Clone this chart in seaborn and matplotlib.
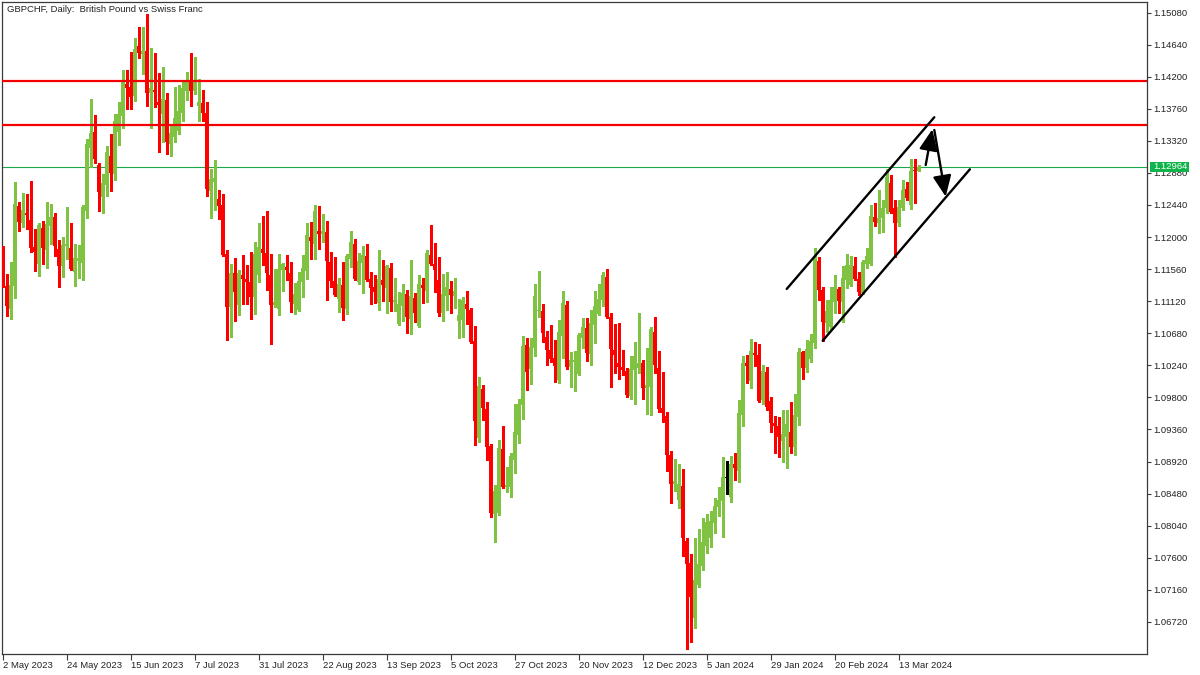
import numpy as np
import pandas as pd
import matplotlib
matplotlib.use("Agg")
import matplotlib.pyplot as plt
import matplotlib.transforms as mtransforms
from matplotlib.patches import Rectangle
import seaborn as sns

# ---------------- data (GBPCHF daily) ----------------
opens = [
    1.11778, 1.11330, 1.11019, 1.11334, 1.12427, 1.12199, 1.12336, 1.12235, 1.11865, 1.11636,
    1.12125, 1.11824, 1.12157, 1.12276, 1.11837, 1.11609, 1.11879, 1.11851, 1.11526, 1.11677,
    1.11650, 1.12363, 1.13223, 1.13442, 1.12990, 1.12555, 1.12720, 1.13113, 1.12871, 1.13447,
    1.13667, 1.14101, 1.14060, 1.13941, 1.14622, 1.14517, 1.14554, 1.13982, 1.14019, 1.13854,
    1.13694, 1.13881, 1.13282, 1.13378, 1.13456, 1.13708, 1.14005, 1.14142, 1.14005, 1.13799,
    1.13840, 1.13703, 1.12638, 1.12757, 1.12523, 1.12441, 1.11769, 1.11046, 1.11508, 1.11074,
    1.11481, 1.11426, 1.11385, 1.11183, 1.11485, 1.11837, 1.11787, 1.11481, 1.11074, 1.11019,
    1.11554, 1.11590, 1.11508, 1.11087, 1.11005, 1.11389, 1.11540, 1.12002, 1.11911, 1.12084,
    1.12048, 1.12071, 1.11659, 1.11398, 1.11156, 1.11343, 1.11019, 1.11705, 1.11906, 1.11389,
    1.11650, 1.11741, 1.11426, 1.11316, 1.11101, 1.11412, 1.11307, 1.11577, 1.11115, 1.10813,
    1.11060, 1.11220, 1.10882, 1.11165, 1.10786, 1.11343, 1.11266, 1.11755, 1.11632, 1.11412,
    1.10964, 1.11197, 1.11289, 1.11197, 1.10854, 1.10863, 1.11083, 1.11000, 1.10575, 1.09249,
    1.09917, 1.09642, 1.09135, 1.08206, 1.08220, 1.09094, 1.08577, 1.08577, 1.08947, 1.09290,
    1.09702, 1.10520, 1.10196, 1.10484, 1.10987, 1.10987, 1.10630, 1.10456, 1.10342, 1.10036,
    1.10648, 1.11069, 1.10223, 1.10292, 1.10127, 1.10621, 1.10754, 1.10401, 1.10799, 1.10950,
    1.11138, 1.11453, 1.10904, 1.10452, 1.10273, 1.10219, 1.10164, 1.09821, 1.10177, 1.10205,
    1.10273, 1.09930, 1.09944, 1.10699, 1.10205, 1.09656, 1.09546, 1.09011, 1.08618, 1.08398,
    1.08586, 1.07831, 1.07529, 1.06780, 1.07232, 1.07493, 1.07767, 1.07877, 1.08083, 1.08302,
    1.08385, 1.08691, 1.08440, 1.08888, 1.08796, 1.09565, 1.10273, 1.10031, 1.10411, 1.10388,
    1.09770, 1.10150, 1.09752, 1.09446, 1.09414, 1.09208, 1.09263, 1.09331, 1.09126, 1.09537,
    1.10429, 1.10209, 1.10328, 1.10552, 1.11677, 1.11275, 1.10827, 1.10772, 1.11115, 1.11289,
    1.11115, 1.11412, 1.11343, 1.11604, 1.11426, 1.11229, 1.11627, 1.11627, 1.12281, 1.12199,
    1.12258, 1.12395, 1.12738, 1.12395, 1.12189, 1.12404, 1.12656, 1.12441, 1.12921, 1.12912,
]
highs = [
    1.11879, 1.11494, 1.11659, 1.12757, 1.12487, 1.12606, 1.12592, 1.12766, 1.12112, 1.12199,
    1.12221, 1.12482, 1.12459, 1.12331, 1.11961, 1.12002, 1.12414, 1.12194, 1.11906, 1.11892,
    1.12441, 1.13346, 1.13895, 1.13676, 1.13013, 1.12866, 1.13250, 1.13415, 1.13689, 1.13854,
    1.14293, 1.14293, 1.14540, 1.14732, 1.14888, 1.14883, 1.15061, 1.14595, 1.14526, 1.14247,
    1.14330, 1.13973, 1.13552, 1.14060, 1.14087, 1.14128, 1.14266, 1.14522, 1.14476, 1.14170,
    1.14019, 1.13854, 1.12935, 1.13058, 1.12647, 1.12592, 1.11824, 1.11636, 1.11714, 1.11549,
    1.11755, 1.11618, 1.11796, 1.11933, 1.12194, 1.12290, 1.12359, 1.11769, 1.11563, 1.11769,
    1.11645, 1.11755, 1.11659, 1.11371, 1.11522, 1.11755, 1.12194, 1.12208, 1.12441, 1.12427,
    1.12317, 1.12221, 1.11796, 1.11728, 1.11439, 1.11659, 1.11769, 1.12084, 1.11975, 1.11782,
    1.11883, 1.11906, 1.11522, 1.11481, 1.11824, 1.11686, 1.11618, 1.11645, 1.11439, 1.11247,
    1.11357, 1.11275, 1.11686, 1.11234, 1.11481, 1.11439, 1.11824, 1.12167, 1.11920, 1.11728,
    1.11494, 1.11522, 1.11398, 1.11439, 1.11151, 1.11179, 1.11261, 1.11028, 1.10781, 1.10081,
    1.09972, 1.09738, 1.09162, 1.08600, 1.09217, 1.09409, 1.08847, 1.09039, 1.09711, 1.09780,
    1.10644, 1.10616, 1.10616, 1.11357, 1.11535, 1.11083, 1.10717, 1.10795, 1.10589, 1.10863,
    1.11261, 1.11124, 1.10424, 1.10438, 1.10685, 1.10891, 1.10891, 1.11000, 1.11261, 1.11357,
    1.11522, 1.11563, 1.10959, 1.10808, 1.10818, 1.10452, 1.10200, 1.10369, 1.10561, 1.10955,
    1.10315, 1.10479, 1.10767, 1.10909, 1.10438, 1.10150, 1.09601, 1.09066, 1.08956, 1.08892,
    1.08819, 1.07877, 1.07653, 1.07877, 1.07996, 1.08152, 1.08206, 1.08248, 1.08426, 1.08577,
    1.08988, 1.08929, 1.08998, 1.09039, 1.09766, 1.10369, 1.10383, 1.10603, 1.10561, 1.10534,
    1.10246, 1.10219, 1.09812, 1.09551, 1.09537, 1.09629, 1.09629, 1.09743, 1.09844, 1.10484,
    1.10438, 1.10589, 1.10667, 1.11856, 1.11732, 1.11321, 1.11138, 1.11321, 1.11476, 1.11321,
    1.11609, 1.11773, 1.11741, 1.11732, 1.11526, 1.11686, 1.11856, 1.12441, 1.12464, 1.12647,
    1.12510, 1.12930, 1.12853, 1.12510, 1.12510, 1.12784, 1.12761, 1.13072, 1.13072, 1.12990,
]
lows = [
    1.11321, 1.10923, 1.10882, 1.11170, 1.12084, 1.12139, 1.12116, 1.11796, 1.11540, 1.11472,
    1.11636, 1.11581, 1.11906, 1.11746, 1.11321, 1.11458, 1.11696, 1.11549, 1.11334, 1.11444,
    1.11417, 1.12267, 1.12962, 1.13022, 1.12363, 1.12336, 1.12569, 1.12638, 1.12789, 1.13269,
    1.13502, 1.13763, 1.13763, 1.13872, 1.14462, 1.14243, 1.13804, 1.13502, 1.13790, 1.13173,
    1.13310, 1.13141, 1.13118, 1.13310, 1.13420, 1.13593, 1.13881, 1.13799, 1.13964, 1.13593,
    1.13593, 1.12564, 1.12267, 1.12372, 1.12253, 1.11740, 1.10593, 1.10635, 1.10854, 1.10927,
    1.11087, 1.11087, 1.10882, 1.10950, 1.11385, 1.11618, 1.11279, 1.10539, 1.11046, 1.10936,
    1.11266, 1.11417, 1.10978, 1.10950, 1.10991, 1.11183, 1.11426, 1.11705, 1.11705, 1.11842,
    1.11938, 1.11142, 1.11321, 1.11197, 1.10978, 1.10868, 1.10950, 1.11595, 1.11417, 1.11362,
    1.11238, 1.11400, 1.11087, 1.11096, 1.11005, 1.11129, 1.10964, 1.10991, 1.10991, 1.10799,
    1.10854, 1.10690, 1.10676, 1.10840, 1.10770, 1.11101, 1.11115, 1.11622, 1.11252, 1.10923,
    1.10854, 1.11005, 1.10964, 1.11033, 1.10621, 1.10635, 1.10808, 1.10550, 1.09153, 1.09194,
    1.09496, 1.08947, 1.08165, 1.07822, 1.08190, 1.08563, 1.08508, 1.08440, 1.08769, 1.09180,
    1.09510, 1.09908, 1.09990, 1.10374, 1.10904, 1.10566, 1.10251, 1.10292, 1.10017, 1.10004,
    1.10347, 1.10196, 1.09949, 1.09894, 1.10113, 1.10484, 1.10305, 1.10251, 1.10552, 1.10935,
    1.11060, 1.10895, 1.09949, 1.10141, 1.10058, 1.10109, 1.09810, 1.09780, 1.09715, 1.10141,
    1.09780, 1.09574, 1.09565, 1.10141, 1.09606, 1.09468, 1.08796, 1.08357, 1.08522, 1.08289,
    1.07630, 1.06354, 1.06450, 1.06642, 1.07205, 1.07438, 1.07671, 1.07754, 1.07946, 1.08179,
    1.07891, 1.08481, 1.08371, 1.08673, 1.08645, 1.09414, 1.09999, 1.09930, 1.10237, 1.09743,
    1.09715, 1.09633, 1.09331, 1.09034, 1.08988, 1.08920, 1.08838, 1.09034, 1.09011, 1.09423,
    1.10054, 1.10154, 1.10283, 1.10475, 1.11138, 1.10580, 1.10703, 1.10726, 1.10955, 1.10955,
    1.10840, 1.11298, 1.11330, 1.11412, 1.11206, 1.11215, 1.11572, 1.11618, 1.12153, 1.12052,
    1.12075, 1.12327, 1.12327, 1.11732, 1.12153, 1.12372, 1.12510, 1.12386, 1.12464, 1.12912,
]
closes = [
    1.11334, 1.11060, 1.11343, 1.12455, 1.12212, 1.12372, 1.12304, 1.11856, 1.11796, 1.12167,
    1.11856, 1.12180, 1.12276, 1.11879, 1.11609, 1.11892, 1.11906, 1.11568, 1.11714, 1.11714,
    1.12414, 1.13278, 1.13429, 1.13077, 1.12624, 1.12743, 1.13168, 1.12885, 1.13593, 1.13689,
    1.14128, 1.14051, 1.13927, 1.14581, 1.14531, 1.14554, 1.13982, 1.14046, 1.13996, 1.13813,
    1.13895, 1.13310, 1.13429, 1.13635, 1.13731, 1.14046, 1.14156, 1.14005, 1.14142, 1.13854,
    1.13703, 1.12660, 1.12798, 1.12816, 1.12432, 1.11760, 1.11046, 1.11508, 1.11247, 1.11508,
    1.11426, 1.11385, 1.11183, 1.11769, 1.11865, 1.11787, 1.11513, 1.11074, 1.11110, 1.11563,
    1.11632, 1.11554, 1.11115, 1.11220, 1.11398, 1.11577, 1.12029, 1.11952, 1.12359, 1.12048,
    1.12084, 1.11677, 1.11403, 1.11206, 1.11357, 1.11033, 1.11741, 1.11933, 1.11426, 1.11673,
    1.11755, 1.11417, 1.11307, 1.11252, 1.11426, 1.11348, 1.11604, 1.11115, 1.11138, 1.11083,
    1.11234, 1.10909, 1.11193, 1.10964, 1.11357, 1.11307, 1.11782, 1.11636, 1.11554, 1.10964,
    1.11220, 1.11316, 1.11211, 1.11261, 1.10932, 1.11138, 1.11014, 1.10566, 1.09482, 1.09958,
    1.09661, 1.09126, 1.08220, 1.08517, 1.09107, 1.08577, 1.08600, 1.08998, 1.09327, 1.09711,
    1.10507, 1.10154, 1.10493, 1.11193, 1.11000, 1.10690, 1.10456, 1.10333, 1.10237, 1.10699,
    1.11096, 1.10223, 1.10315, 1.10315, 1.10658, 1.10767, 1.10415, 1.10822, 1.11055, 1.11151,
    1.11481, 1.10909, 1.10470, 1.10388, 1.10219, 1.10177, 1.09834, 1.10191, 1.10369, 1.10273,
    1.09930, 1.09972, 1.10740, 1.10246, 1.09642, 1.09592, 1.09011, 1.08618, 1.08654, 1.08613,
    1.07877, 1.07520, 1.07068, 1.07301, 1.07520, 1.07822, 1.08097, 1.08106, 1.08316, 1.08394,
    1.08709, 1.08691, 1.08888, 1.08837, 1.09587, 1.10273, 1.10237, 1.10438, 1.10388, 1.09757,
    1.10164, 1.09674, 1.09446, 1.09414, 1.09263, 1.09299, 1.09437, 1.09126, 1.09560, 1.10429,
    1.10209, 1.10465, 1.10575, 1.11700, 1.11275, 1.10840, 1.10987, 1.11138, 1.11321, 1.11129,
    1.11444, 1.11618, 1.11618, 1.11426, 1.11252, 1.11664, 1.11741, 1.12290, 1.12212, 1.12267,
    1.12404, 1.12830, 1.12350, 1.12189, 1.12418, 1.12647, 1.12542, 1.12907, 1.12907, 1.12964,
]

title_text = "GBPCHF, Daily:  British Pound vs Swiss Franc"
resistance_levels = [1.14139, 1.13543]
current_price = 1.12964
ytick_values = [1.06720, 1.07160, 1.07600, 1.08040, 1.08480, 1.08920, 1.09360, 1.09800,
                1.10240, 1.10680, 1.11120, 1.11560, 1.12000, 1.12440, 1.12880, 1.13320,
                1.13760, 1.14200, 1.14640, 1.15080]
# drawn channel (bar index, price) and projection arrows
channel_upper_x = [196.0, 232.9]
channel_upper_y = [1.11288, 1.13644]
channel_lower_x = [205.0, 241.8]
channel_lower_y = [1.10578, 1.12930]
arrow_up = ((230.75, 1.12989), (232.4, 1.13479))
arrow_down = ((232.9, 1.13469), (235.75, 1.12554))

# trading days (weekdays without 25 Dec and 1 Jan)
dates = pd.bdate_range("2023-05-02", "2024-03-20")
dates = dates[~(((dates.month == 12) & (dates.day == 25)) | ((dates.month == 1) & (dates.day == 1)))]

df = pd.DataFrame({"date": dates, "open": opens, "high": highs, "low": lows, "close": closes})
df["idx"] = np.arange(len(df))

# ---------------- style ----------------
sns.set_theme(style="white")
plt.rcParams["font.family"] = ["Liberation Sans", "DejaVu Sans"]

GREEN = "#80c343"
RED = "#ff0000"
FRAME = "#3a3a3a"
TXT = "#222222"

W, H = 1200, 675
fig = plt.figure(figsize=(12, 6.75), dpi=100)
fig.patch.set_facecolor("white")
left_px, right_px, top_px, bottom_px = 2.3, 1146.7, 2.0, 654.0
ax = fig.add_axes([left_px / W, 1 - bottom_px / H, (right_px - left_px) / W, (bottom_px - top_px) / H])
ax.set_facecolor("white")

ax.set_xlim(-0.1, 286.0)
ax.set_ylim(1.06280, 1.15225)

# candles
up = df["close"] > df["open"]
down = df["close"] < df["open"]
colors = np.where(up, GREEN, np.where(down, RED, "#000000"))
ax.vlines(df["idx"], df["low"], df["high"], colors=colors, linewidth=0.8, antialiased=False, zorder=3)
body_bottom = np.minimum(df["open"], df["close"])
body_h = np.maximum((df["close"] - df["open"]).abs(), 0.00011)
ax.bar(df["idx"], body_h, bottom=body_bottom, width=0.62, color=colors, linewidth=0,
       antialiased=False, zorder=4)

# horizontal levels
for lvl in resistance_levels:
    ax.axhline(lvl, color="#f40000", lw=1.6, zorder=5)
ax.axhline(current_price, color="#1aa84a", lw=0.8, zorder=2)

# channel
sns.lineplot(x=channel_upper_x, y=channel_upper_y, ax=ax, color="black", lw=1.7, zorder=6)
sns.lineplot(x=channel_lower_x, y=channel_lower_y, ax=ax, color="black", lw=1.7, zorder=6)
for (start, end) in (arrow_up, arrow_down):
    ax.annotate("", xy=end, xytext=start,
                arrowprops=dict(arrowstyle="-|>,head_length=0.8,head_width=0.35", lw=1.7,
                                color="black", shrinkA=0, shrinkB=0, mutation_scale=16),
                zorder=7)

# axes frame / ticks
for sp in ax.spines.values():
    sp.set_color(FRAME)
    sp.set_linewidth(0.9)
ax.yaxis.tick_right()
ax.set_yticks(ytick_values)
ax.set_yticklabels([f"{v:.5f}" for v in ytick_values])
tick_pos = df["idx"].values[::16]
tick_lab = [f"{d.day} {d.strftime('%b %Y')}" for d in df["date"].iloc[::16]]
ax.set_xticks(tick_pos)
ax.set_xticklabels(tick_lab)
for lbl in ax.get_xticklabels():
    lbl.set_ha("left")
ax.tick_params(axis="y", direction="out", length=3.2, width=0.8, colors=FRAME, labelsize=6.8,
               pad=1.2, labelcolor=TXT, right=True, left=False)
ax.tick_params(axis="x", direction="out", length=4.3, width=0.8, colors=FRAME, labelsize=6.8,
               pad=0.8, labelcolor=TXT, bottom=True)
ax.grid(False)
ax.set_xlabel("")
ax.set_ylabel("")

# current price tag
trans = mtransforms.blended_transform_factory(ax.transAxes, ax.transData)
px_price = (1.15225 - 1.06280) / (bottom_px - top_px)
ax.add_patch(Rectangle((1.0029, current_price - 5 * px_price), 38.7 / (right_px - left_px),
                       10 * px_price, transform=trans, clip_on=False, facecolor="#0fb44a",
                       edgecolor="none", zorder=10))
ax.text(1.0029 + 2.8 / (right_px - left_px), current_price, f"{current_price:.5f}", transform=trans,
        ha="left", va="center", color="white", fontsize=6.8, zorder=11, clip_on=False)

# title
ax.text(0.0041, 0.989, title_text, transform=ax.transAxes, ha="left", va="center",
        fontsize=6.8, color=TXT, zorder=10)

fig.savefig("out.png", dpi=100)
